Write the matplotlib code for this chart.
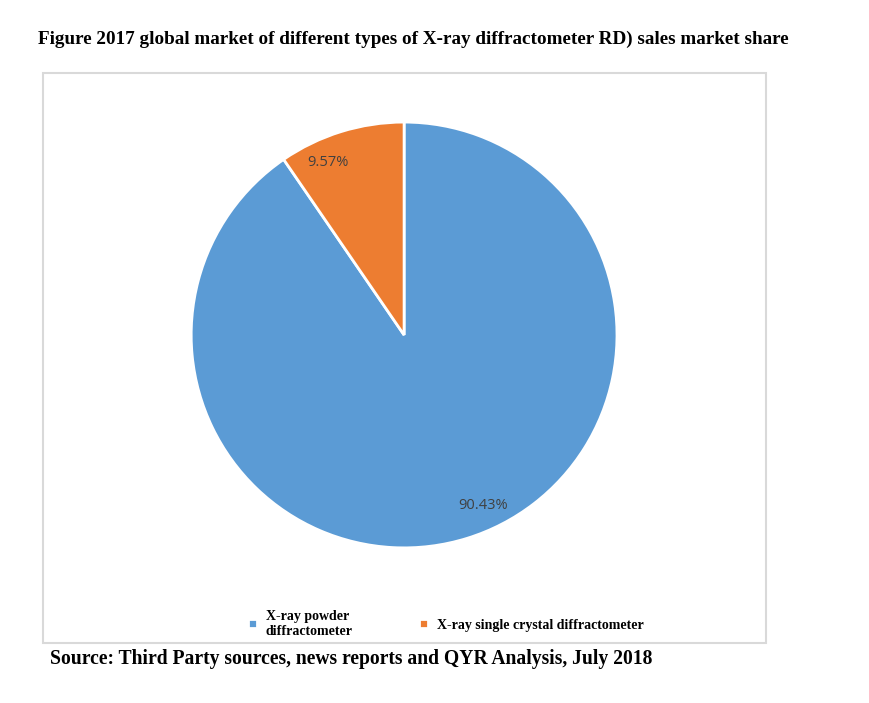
import matplotlib
matplotlib.use("Agg")
import matplotlib.pyplot as plt
from matplotlib.patches import Rectangle

# market share of XRD types, 2017
categories = ["X-ray powder\ndiffractometer", "X-ray single crystal diffractometer"]
shares = [90.43, 9.57]
colors = ["#5B9BD5", "#ED7D31"]

title = "Figure 2017 global market of different types of X-ray diffractometer RD) sales market share"
source = "Source: Third Party sources, news reports and QYR Analysis, July 2018"

# data-label spots inside the pie (pie radius = 1)
label_pos = [(0.37, -0.80), (-0.36, 0.81)]


def main():
    fig = plt.figure(figsize=(8.69, 7.03), dpi=100)

    # light grey chart-area border
    fig.patches.append(Rectangle((0.0495, 0.0853), 0.832, 0.811, transform=fig.transFigure,
                                 fill=False, edgecolor="#D9D9D9", linewidth=1.5))

    ax = fig.add_axes([0.220, 0.2205, 0.490, 0.606])
    wedges, _, autotexts = ax.pie(
        shares,
        colors=colors,
        startangle=90,
        counterclock=False,
        autopct="%.2f%%",
        wedgeprops=dict(edgecolor="white", linewidth=2),
        textprops=dict(color="#404040", fontsize=10.5, family="Open Sans"),
    )
    for t, p in zip(autotexts, label_pos):
        t.set_position(p)
    ax.set_xlim(-1, 1)
    ax.set_ylim(-1, 1)
    ax.set_aspect("equal")

    fig.text(0.044, 0.944, title, fontsize=13.8, fontweight="bold",
             family="Liberation Serif", ha="left", va="center")
    fig.text(0.058, 0.062, source, fontsize=14.1, fontweight="bold",
             family="Liberation Serif", ha="left", va="center")

    fig.legend(wedges, categories, loc="center", bbox_to_anchor=(0.513, 0.113),
               ncol=2, frameon=False, handlelength=0.65, handleheight=0.65,
               handletextpad=0.6, columnspacing=4.8,
               prop=dict(family="Liberation Serif", weight="bold", size=10))

    plt.savefig("out.png", dpi=100)


if __name__ == "__main__":
    main()
